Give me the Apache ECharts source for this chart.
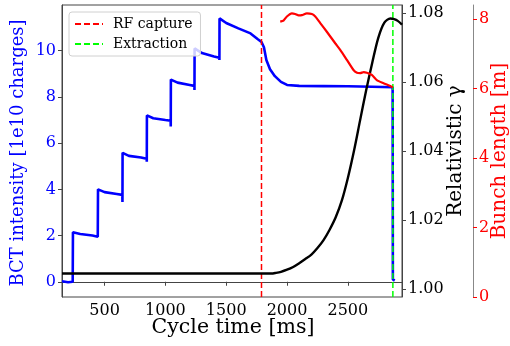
<!DOCTYPE html>
<html>
<head>
<meta charset="utf-8">
<script src="https://cdn.jsdelivr.net/npm/echarts@6/dist/echarts.min.js"></script>
<style>
html,body{margin:0;padding:0;background:#fff;}
#chart{width:510px;height:346px;}
</style>
</head>
<body>
<div id="chart"></div>
<script>
// ---- data ----
const xTicks = [500, 1000, 1500, 2000, 2500];
const bctTicks = [0, 2, 4, 6, 8, 10];
const gammaTicks = [1.00, 1.02, 1.04, 1.06, 1.08];
const bunchTicks = [0, 2, 4, 6, 8];

const rfCaptureTime = 1790;
const extractionTime = 2870;

// BCT intensity [1e10 charges] vs cycle time [ms]
const bctIntensity = [
  [150,0.02],[200,-0.02],[238,0.0],[240,2.14],[300,2.07],[400,2.0],[444,1.95],[445,1.88],
  [446,4.0],[500,3.88],[600,3.8],[646,3.76],[647,3.45],
  [648,5.58],[700,5.45],[800,5.38],[846,5.32],[847,5.2],
  [848,7.2],[900,7.08],[1000,7.0],[1043,6.97],[1044,6.72],
  [1045,8.75],[1100,8.62],[1200,8.52],[1238,8.48],[1239,8.3],
  [1240,10.1],[1300,9.9],[1400,9.75],[1443,9.7],[1444,9.6],
  [1445,11.4],[1500,11.2],[1600,10.97],[1700,10.75],[1760,10.5],[1790,10.38],
  [1810,10.15],[1830,9.6],[1860,9.2],[1900,8.9],[1950,8.65],[2000,8.52],
  [2100,8.48],[2300,8.47],[2500,8.46],[2700,8.44],[2868,8.42],[2870,0.1],[2885,0.05]
];

// Relativistic gamma vs cycle time [ms]
const gamma = [
  [150,1.0045],[1870,1.0045],[1910,1.0047],[1950,1.0050],[2000,1.0056],[2050,1.0064],
  [2100,1.0075],[2150,1.0087],[2200,1.0100],[2250,1.0119],[2300,1.0142],[2350,1.0172],
  [2400,1.0208],[2450,1.0256],[2500,1.0322],[2550,1.0400],[2600,1.0488],[2650,1.0575],
  [2700,1.0655],[2750,1.0728],[2800,1.0772],[2850,1.0784],[2880,1.0782],[2910,1.0777],[2945,1.0766]
];

// Bunch length [m] vs cycle time [ms]
const bunchLength = [
  [1944,7.92],[1971,7.95],[1999,8.07],[2040,8.16],[2067,8.14],[2095,8.10],[2122,8.11],
  [2163,8.16],[2204,8.14],[2232,8.07],[2273,7.88],[2327,7.63],[2396,7.30],[2437,7.11],
  [2492,6.82],[2546,6.53],[2575,6.45],[2601,6.44],[2630,6.47],[2656,6.45],[2697,6.39],
  [2738,6.24],[2793,6.15],[2848,6.07],[2870,6.03]
];

const legendNames = ['RF capture', 'Extraction'];

// ---- chart ----
const FONT = 'DejaVu Serif';
const X_MIN = 150, X_MAX = 2945;
const Y0_MIN = -0.66, Y0_MAX = 11.98;

const chart = echarts.init(document.getElementById('chart'), null, {renderer: 'canvas'});

const option = {
  animation: false,
  backgroundColor: '#fff',
  textStyle: {fontFamily: FONT},
  grid: {left: 62, top: 5, width: 340, height: 292, show: true, borderColor: '#444', borderWidth: 1, backgroundColor: 'transparent'},
  legend: {
    orient: 'vertical', left: 69, top: 12,
    padding: [5, 8, 5, 5], itemGap: 6, itemWidth: 28, itemHeight: 14,
    backgroundColor: 'rgba(255,255,255,0.8)', borderColor: '#d0d0d0', borderWidth: 1, borderRadius: 3,
    itemStyle: {opacity: 0},
    textStyle: {fontFamily: FONT, fontSize: 14, color: '#000', padding: [0, 0, 0, 5]},
    data: legendNames
  },
  xAxis: {
    type: 'value', min: X_MIN, max: X_MAX,
    axisLine: {show: true, lineStyle: {color: '#444'}},
    axisTick: {show: true, customValues: xTicks, length: 4, lineStyle: {color: '#444'}},
    axisLabel: {customValues: xTicks, color: '#000', fontSize: 16, fontFamily: FONT, margin: 6,
      formatter: v => String(v)},
    splitLine: {show: false}
  },
  yAxis: [
    {
      type: 'value', position: 'left', min: Y0_MIN, max: Y0_MAX,
      axisLine: {show: true, lineStyle: {color: '#444'}},
      axisTick: {show: true, customValues: bctTicks, length: 4, lineStyle: {color: '#444'}},
      axisLabel: {customValues: bctTicks, color: '#0000ff', fontSize: 16, fontFamily: FONT, margin: 6,
        formatter: v => String(v)},
      splitLine: {show: false}
    },
    {
      type: 'value', position: 'right', offset: 0, min: 0.9977, max: 1.0823,
      axisLine: {show: true, lineStyle: {color: '#444'}},
      axisTick: {show: true, customValues: gammaTicks, length: 4, lineStyle: {color: '#444'}},
      axisLabel: {customValues: gammaTicks, color: '#000', fontSize: 16, fontFamily: FONT, margin: 6,
        formatter: v => v.toFixed(2)},
      splitLine: {show: false}
    },
    {
      type: 'value', position: 'right', offset: 71, min: 0, max: 8.4,
      axisLine: {show: true, lineStyle: {color: '#888'}},
      axisTick: {show: true, customValues: bunchTicks, length: 4, lineStyle: {color: '#ff0000'}},
      axisLabel: {customValues: bunchTicks, color: '#ff0000', fontSize: 16, fontFamily: FONT, margin: 6,
        formatter: v => String(v)},
      splitLine: {show: false}
    }
  ],
  series: [
    {
      name: 'BCT', type: 'line', xAxisIndex: 0, yAxisIndex: 0, data: bctIntensity,
      symbol: 'none', lineStyle: {color: '#0000ff', width: 2.6}, z: 2
    },
    {
      name: legendNames[0], type: 'line', yAxisIndex: 0,
      data: [[rfCaptureTime, Y0_MIN], [rfCaptureTime, Y0_MAX]],
      symbol: 'none', itemStyle: {color: '#ff0000'},
      lineStyle: {color: '#ff0000', width: 1.5, type: [6, 3]}, z: 3
    },
    {
      name: legendNames[1], type: 'line', yAxisIndex: 0,
      data: [[extractionTime, Y0_MIN], [extractionTime, Y0_MAX]],
      symbol: 'none', itemStyle: {color: '#00ff00'},
      lineStyle: {color: '#00ff00', width: 1.5, type: [6, 3]}, z: 3
    },
    {
      name: 'gamma', type: 'line', yAxisIndex: 1, data: gamma, smooth: 0.3,
      symbol: 'none', lineStyle: {color: '#000', width: 2.4}, z: 4
    },
    {
      name: 'bunch', type: 'line', yAxisIndex: 2, data: bunchLength, smooth: 0.2,
      symbol: 'none', lineStyle: {color: '#ff0000', width: 2.2}, z: 5
    }
  ],
  graphic: [
    {type: 'text', x: 233, y: 328, style: {text: 'Cycle time [ms]', font: '20.5px "DejaVu Serif"', fill: '#000', textAlign: 'center', textVerticalAlign: 'middle'}},
    {type: 'text', x: 18, y: 153, rotation: Math.PI / 2, style: {text: 'BCT intensity [1e10 charges]', font: '18px "DejaVu Serif"', fill: '#0000ff', textAlign: 'center', textVerticalAlign: 'middle'}},
    {type: 'text', x: 456, y: 151, rotation: Math.PI / 2, style: {text: 'Relativistic γ', font: '20px "DejaVu Serif"', fill: '#000', textAlign: 'center', textVerticalAlign: 'middle'}},
    {type: 'text', x: 500, y: 151, rotation: Math.PI / 2, style: {text: 'Bunch length [m]', font: '20px "DejaVu Serif"', fill: '#ff0000', textAlign: 'center', textVerticalAlign: 'middle'}}
  ]
};
chart.setOption(option);
</script>
</body>
</html>
